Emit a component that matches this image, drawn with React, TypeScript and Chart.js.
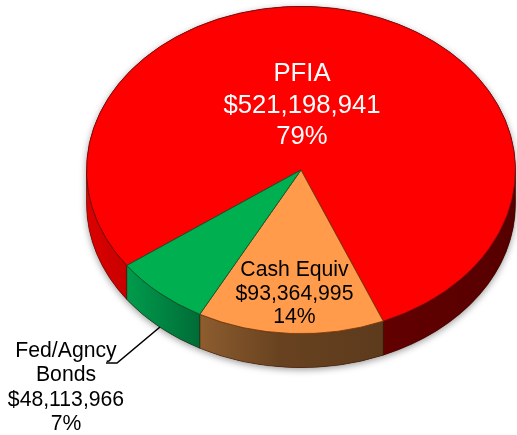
import React, { useEffect, useRef } from "react";
import { Chart, registerables } from "chart.js";

Chart.register(...registerables);

const categories = ["PFIA", "Cash Equiv", "Fed/Agncy\nBonds"];
const values = [521198941, 93364995, 48113966];
const percents = ["79%", "14%", "7%"];
const topColors = ["#FF0000", "#FF9B4B", "#00B050"];
const edgeColors = ["#6B1010", "#7A3A08", "#0B5A30"];
const sideStops: [number, string][][] = [
  [[0, "#DC0000"], [0.1, "#C80000"], [0.7, "#620000"], [1, "#560000"]],
  [[0.27, "#8C5C2E"], [0.45, "#684220"], [0.7, "#5C3A1C"]],
  [[0.1, "#009A4C"], [0.27, "#006A36"]],
];
const labelColors = ["#FFFFFF", "#000000", "#000000"];

const TILT = 0.763;
const FACE_Y = 170;
const DEPTH = 34;
const START_DEG = 234.3;
const labelLayout = [
  { x: 302, y: 74, size: 25.7, lh: 31.5 },
  { x: 294.5, y: 270.5, size: 21.2, lh: 23.3 },
  { x: 66, y: 351, size: 21.2, lh: 24.5 },
];
const leader = [
  [160, 327],
  [117, 363],
  [106, 363],
];

const pie3d = {
  id: "pie3d",
  beforeDatasetsDraw(chart: any) {
    const ctx = chart.ctx;
    const arcs = chart.getDatasetMeta(0).data;
    const { x: cx, outerRadius: rx } = arcs[0].getProps(["x", "outerRadius"], true);
    const ry = rx * TILT;
    const TWO = Math.PI * 2;

    // soft shadow around the whole puck
    ctx.save();
    ctx.shadowColor = "rgba(0,0,0,0.4)";
    ctx.shadowBlur = 7;
    ctx.shadowOffsetY = 2;
    ctx.fillStyle = "#700000";
    ctx.beginPath();
    ctx.ellipse(cx, FACE_Y, rx, ry, 0, Math.PI, TWO);
    ctx.ellipse(cx, FACE_Y + DEPTH, rx, ry, 0, 0, Math.PI);
    ctx.closePath();
    ctx.fill();
    ctx.restore();

    // side wall of each slice, for the part facing the viewer
    arcs.forEach((arc: any, i: number) => {
      const { startAngle, endAngle } = arc.getProps(["startAngle", "endAngle"], true);
      const g = ctx.createLinearGradient(cx - rx, 0, cx + rx, 0);
      sideStops[i].forEach(([p, c]) => g.addColorStop(p, c));
      for (let k = -1; k < 3; k++) {
        const a = Math.max(startAngle, k * TWO);
        const b = Math.min(endAngle, k * TWO + Math.PI);
        if (b <= a) continue;
        ctx.beginPath();
        ctx.ellipse(cx, FACE_Y, rx, ry, 0, a, b);
        ctx.ellipse(cx, FACE_Y + DEPTH, rx, ry, 0, b, a, true);
        ctx.closePath();
        ctx.fillStyle = g;
        ctx.fill();
        ctx.strokeStyle = "rgba(40,15,0,0.4)";
        ctx.lineWidth = 1;
        ctx.stroke();
      }
    });

    // squash the flat top face of the pie
    ctx.save();
    ctx.translate(0, FACE_Y);
    ctx.scale(1, TILT);
    ctx.translate(0, -arcs[0].y);
  },
  afterDatasetsDraw(chart: any) {
    const ctx = chart.ctx;
    ctx.restore();

    ctx.save();
    ctx.strokeStyle = "#000000";
    ctx.lineWidth = 1.6;
    ctx.beginPath();
    leader.forEach(([x, y], i) => (i ? ctx.lineTo(x, y) : ctx.moveTo(x, y)));
    ctx.stroke();

    ctx.textAlign = "center";
    ctx.textBaseline = "middle";
    categories.forEach((name, i) => {
      const L = labelLayout[i];
      const lines = [...name.split("\n"), "$" + values[i].toLocaleString("en-US"), percents[i]];
      ctx.font = `${L.size}px "Liberation Sans", Arial, sans-serif`;
      ctx.fillStyle = labelColors[i];
      lines.forEach((t, j) => ctx.fillText(t, L.x, L.y + j * L.lh));
    });
    ctx.restore();
  },
};

export default function App() {
  const ref = useRef<HTMLCanvasElement>(null);
  useEffect(() => {
    document.body.style.margin = "0";
    const chart = new Chart(ref.current!, {
      type: "pie",
      data: {
        labels: categories.map((c) => c.replace("\n", " ")),
        datasets: [
          {
            data: values,
            backgroundColor: topColors,
            borderColor: edgeColors,
            borderWidth: 1,
            clip: false,
          } as any,
        ],
      },
      options: {
        responsive: false,
        animation: false,
        rotation: START_DEG,
        layout: { padding: { left: 86, right: 1, top: 0, bottom: 5 } },
        plugins: { legend: { display: false }, tooltip: { enabled: false } },
      },
      plugins: [pie3d],
    });
    return () => chart.destroy();
  }, []);
  return <canvas ref={ref} width={517} height={435} style={{ display: "block" }} />;
}
